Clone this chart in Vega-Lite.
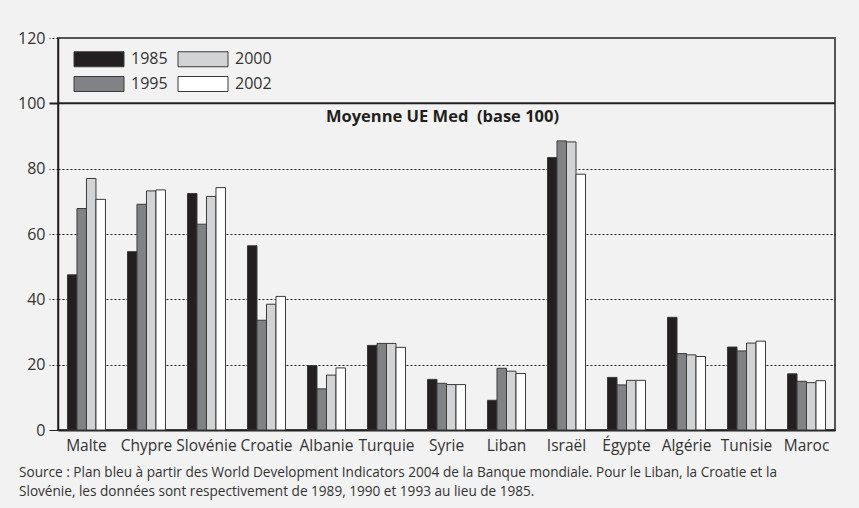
{
  "$schema": "https://vega.github.io/schema/vega-lite/v6.json",
  "width": 777,
  "height": 392,
  "autosize": "none",
  "padding": {"left": 58, "top": 38, "right": 24, "bottom": 78},
  "background": "#f2f2f2",
  "config": {
    "font": "Open Sans",
    "view": {"stroke": "#555555", "strokeWidth": 2},
    "axis": {"labelFont": "Open Sans", "labelColor": "#333333"}
  },
  "title": {
    "text": ["Source : Plan bleu à partir des World Development Indicators 2004 de la Banque mondiale. Pour le Liban, la Croatie et la", "Slovénie, les données sont respectivement de 1989, 1990 et 1993 au lieu de 1985."],
    "orient": "bottom",
    "anchor": "start",
    "frame": "group",
    "dx": -39,
    "offset": 12,
    "font": "Open Sans",
    "fontSize": 13.6,
    "fontWeight": "normal",
    "lineHeight": 19,
    "color": "#333333"
  },
  "layer": [
    {
      "data": {"values": [
        {"pays":"Malte","annee":"1985","v":47.5},{"pays":"Malte","annee":"1995","v":67.8},{"pays":"Malte","annee":"2000","v":77.0},{"pays":"Malte","annee":"2002","v":70.6},
        {"pays":"Chypre","annee":"1985","v":54.6},{"pays":"Chypre","annee":"1995","v":69.1},{"pays":"Chypre","annee":"2000","v":73.2},{"pays":"Chypre","annee":"2002","v":73.5},
        {"pays":"Slovénie","annee":"1985","v":72.4},{"pays":"Slovénie","annee":"1995","v":63.0},{"pays":"Slovénie","annee":"2000","v":71.5},{"pays":"Slovénie","annee":"2002","v":74.2},
        {"pays":"Croatie","annee":"1985","v":56.4},{"pays":"Croatie","annee":"1995","v":33.6},{"pays":"Croatie","annee":"2000","v":38.5},{"pays":"Croatie","annee":"2002","v":40.9},
        {"pays":"Albanie","annee":"1985","v":19.7},{"pays":"Albanie","annee":"1995","v":12.6},{"pays":"Albanie","annee":"2000","v":16.8},{"pays":"Albanie","annee":"2002","v":19.0},
        {"pays":"Turquie","annee":"1985","v":25.9},{"pays":"Turquie","annee":"1995","v":26.5},{"pays":"Turquie","annee":"2000","v":26.5},{"pays":"Turquie","annee":"2002","v":25.3},
        {"pays":"Syrie","annee":"1985","v":15.5},{"pays":"Syrie","annee":"1995","v":14.3},{"pays":"Syrie","annee":"2000","v":13.9},{"pays":"Syrie","annee":"2002","v":13.9},
        {"pays":"Liban","annee":"1985","v":9.1},{"pays":"Liban","annee":"1995","v":18.9},{"pays":"Liban","annee":"2000","v":18.0},{"pays":"Liban","annee":"2002","v":17.3},
        {"pays":"Israël","annee":"1985","v":83.4},{"pays":"Israël","annee":"1995","v":88.5},{"pays":"Israël","annee":"2000","v":88.2},{"pays":"Israël","annee":"2002","v":78.3},
        {"pays":"Égypte","annee":"1985","v":16.1},{"pays":"Égypte","annee":"1995","v":13.8},{"pays":"Égypte","annee":"2000","v":15.2},{"pays":"Égypte","annee":"2002","v":15.2},
        {"pays":"Algérie","annee":"1985","v":34.5},{"pays":"Algérie","annee":"1995","v":23.4},{"pays":"Algérie","annee":"2000","v":23.0},{"pays":"Algérie","annee":"2002","v":22.5},
        {"pays":"Tunisie","annee":"1985","v":25.4},{"pays":"Tunisie","annee":"1995","v":24.2},{"pays":"Tunisie","annee":"2000","v":26.6},{"pays":"Tunisie","annee":"2002","v":27.2},
        {"pays":"Maroc","annee":"1985","v":17.2},{"pays":"Maroc","annee":"1995","v":14.9},{"pays":"Maroc","annee":"2000","v":14.5},{"pays":"Maroc","annee":"2002","v":15.1}
      ]},
      "mark": {"type": "bar", "stroke": "#3a3a3a", "strokeWidth": 1},
      "encoding": {
        "x": {
          "field": "pays", "type": "nominal",
          "scale": {"domain": ["Malte","Chypre","Slovénie","Croatie","Albanie","Turquie","Syrie","Liban","Israël","Égypte","Algérie","Tunisie","Maroc"], "paddingInner": 0.367, "paddingOuter": 0.158},
          "axis": {"title": null, "labelAngle": 0, "labelFontSize": 15.5, "labelPadding": 8, "ticks": false, "domainColor": "#231f20", "domainWidth": 2}
        },
        "xOffset": {"field": "annee", "type": "nominal", "sort": ["1985","1995","2000","2002"], "scale": {"paddingInner": 0, "paddingOuter": 0}},
        "y": {
          "field": "v", "type": "quantitative",
          "scale": {"domain": [0, 120], "nice": false},
          "axis": {
            "title": null, "values": [0,20,40,60,80,100,120], "labelFontSize": 16, "labelPadding": 4,
            "tickSize": 9, "tickColor": "#231f20",
            "tickWidth": {"condition": {"test": "datum.value == 100", "value": 2}, "value": 1},
            "tickDash": {"condition": {"test": "datum.value == 100 || datum.value == 0", "value": []}, "value": [2, 2]},
            "domainColor": "#231f20", "domainWidth": 1.5,
            "grid": true, "gridColor": "#231f20", "gridDash": [2, 2], "gridWidth": 1,
            "gridOpacity": {"condition": {"test": "datum.value == 0 || datum.value >= 100", "value": 0}, "value": 1}
          }
        },
        "color": {
          "field": "annee", "type": "nominal",
          "scale": {"domain": ["1985","1995","2000","2002"], "range": ["#231f20","#808285","#d1d3d4","#ffffff"]},
          "legend": {
            "title": null, "orient": "top-left", "offset": 13, "padding": 0,
            "columns": 2,
            "symbolType": "M-1,-1.5H9V1.5H-1Z", "symbolSize": 100,
            "symbolStrokeColor": "#3a3a3a", "symbolStrokeWidth": 1, "symbolOpacity": 1,
            "labelFontSize": 16, "labelColor": "#333333", "labelFont": "Open Sans", "labelOffset": 44,
            "rowPadding": 5, "columnPadding": 7
          }
        }
      }
    },
    {
      "data": {"values": [{}]},
      "mark": {"type": "rule", "color": "#231f20", "strokeWidth": 2},
      "encoding": {"y": {"datum": 100, "type": "quantitative"}}
    },
    {
      "data": {"values": [{"t": "Moyenne UE Med\u00a0 (base 100)"}]},
      "mark": {"type": "text", "font": "Open Sans", "fontWeight": "bold", "fontSize": 16.5, "color": "#231f20", "baseline": "middle", "dy": 14, "dx": -4},
      "encoding": {
        "x": {"datum": "Syrie", "type": "nominal"},
        "y": {"datum": 100, "type": "quantitative"},
        "text": {"field": "t"}
      }
    }
  ]
}
